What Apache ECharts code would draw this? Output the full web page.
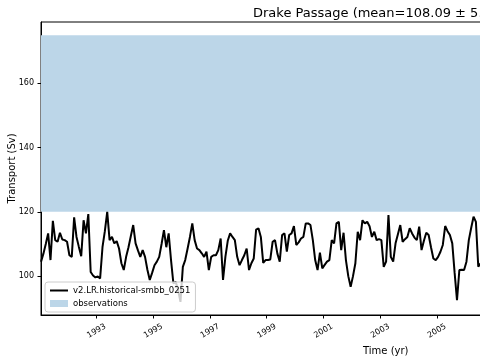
<!DOCTYPE html>
<html>
<head>
<meta charset="utf-8">
<script src="https://cdn.jsdelivr.net/npm/echarts@6/dist/echarts.min.js"></script>
<style>html,body{margin:0;padding:0;background:#fff}#c{width:480px;height:360px}</style>
</head>
<body>
<div id="c"></div>
<script>
// Monthly transport values (Sv), starting January 1991
const transport = [
  104.5,107.0,110.0,113.3,105.0,117.2,111.2,110.7,113.5,111.4,111.2,110.7,
  106.5,106.0,118.3,112.2,109.1,106.2,117.4,113.3,119.3,101.3,100.2,99.6,
  99.9,99.3,109.0,114.0,120.0,111.2,112.2,110.2,110.9,108.6,104.0,101.9,
  106.0,109.0,112.5,115.9,110.2,108.0,106.0,108.1,106.0,102.0,98.8,101.0,
  103.4,104.5,106.0,110.0,114.3,109.0,113.3,105.0,97.7,98.2,95.6,92.0,
  102.9,105.0,108.5,112.2,116.4,111.2,108.6,108.1,107.1,106.0,107.6,101.9,
  106.0,106.5,106.5,108.1,111.7,98.8,106.0,111.0,113.3,112.2,111.2,106.0,
  103.4,105.0,106.5,108.6,101.9,104.0,105.5,114.5,114.9,112.2,104.1,105.0,
  105.0,105.2,110.7,111.2,107.0,104.5,112.8,113.3,107.6,112.8,113.3,115.6,
  109.7,110.5,111.7,112.2,116.4,116.4,115.9,111.2,105.0,101.9,107.3,102.4,
  103.5,104.5,105.0,111.2,110.2,116.4,116.9,108.1,113.5,105.0,100.0,96.7,
  100.0,104.0,113.8,111.2,117.4,116.4,116.9,115.5,112.2,113.8,111.2,111.5,
  111.2,102.9,104.5,119.0,106.0,104.5,110.2,113.0,115.9,110.7,111.5,112.2,
  114.9,113.3,112.0,111.2,115.4,108.1,111.0,113.5,112.8,109.0,105.5,105.0,
  106.0,107.6,109.7,115.6,114.0,112.8,110.2,101.0,92.5,101.9,102.0,101.9,
  104.5,111.2,115.0,118.5,116.9,102.9,104.0
];
const startYear = 1991;
const obsLow = 120;
const obsHigh = 175;
const xTickYears = [1993, 1995, 1997, 1999, 2001, 2003, 2005];
const yTicks = [100, 120, 140, 160];
const seriesName = 'v2.LR.historical-smbb_0251';
const obsName = 'observations';
const titleText = 'Drake Passage (mean=108.09 \u00b1 5.52)';

const timeYears = transport.map((v, i) => startYear + (i + 0.5) / 12);
const lineData = transport.map((v, i) => [timeYears[i], v]);

const FONT = 'DejaVu Sans';
const chart = echarts.init(document.getElementById('c'), null, {renderer: 'canvas'});
chart.setOption({
  animation: false,
  backgroundColor: '#fff',
  title: [
    {text: titleText, left: 248, top: 2,
     textStyle: {fontFamily: FONT, fontSize: 13, fontWeight: 'normal', color: '#000'}},
    {text: 'Time (yr)', left: 358, top: 341,
     textStyle: {fontFamily: FONT, fontSize: 10, fontWeight: 'normal', color: '#000'}}
  ],
  grid: {left: 41, top: 22, right: -2, bottom: 45, containLabel: false, outerBoundsMode: 'none',
    show: true, borderColor: '#000', borderWidth: 1, backgroundColor: 'transparent'},
  xAxis: {
    type: 'value', min: 1991.04, max: 2006.59,
    axisLine: {show: true, lineStyle: {color: '#000', width: 1}},
    axisTick: {show: true, length: 3.5, lineStyle: {color: '#000'}, customValues: xTickYears},
    axisLabel: {customValues: xTickYears, rotate: 30, align: 'center', verticalAlign: 'middle', margin: 16,
      fontFamily: FONT, fontSize: 8, color: '#000', formatter: v => String(Math.round(v))},
    splitLine: {show: false}
  },
  yAxis: {
    type: 'value', min: 87.9, max: 179.1,
    name: 'Transport (Sv)', nameLocation: 'middle', nameGap: 24, nameMoveOverlap: false,
    nameTextStyle: {fontFamily: FONT, fontSize: 10, color: '#000'},
    axisLine: {show: true, lineStyle: {color: '#000', width: 1}},
    axisTick: {show: true, length: 3.5, lineStyle: {color: '#000'}, customValues: yTicks},
    axisLabel: {customValues: yTicks, margin: 7, fontFamily: FONT, fontSize: 8, color: '#000'},
    splitLine: {show: false}
  },
  legend: {
    orient: 'vertical', left: 45, top: 282,
    padding: [4, 5, 4, 4], itemGap: 4, itemWidth: 18, itemHeight: 7,
    backgroundColor: 'rgba(255,255,255,0.8)', borderColor: '#ccc', borderWidth: 1, borderRadius: 3,
    textStyle: {fontFamily: FONT, fontSize: 8.5, color: '#000'},
    data: [
      {name: seriesName, itemStyle: {color: 'rgba(0,0,0,0)', opacity: 0, borderWidth: 0}, lineStyle: {color: '#000', width: 2}},
      {name: obsName, icon: 'rect'}
    ]
  },
  series: [
    {
      name: obsName, type: 'bar', data: [], z: 1,
      itemStyle: {color: '#bcd6e8'},
      markArea: {silent: true, itemStyle: {color: '#bcd6e8', opacity: 1},
        data: [[{yAxis: obsLow}, {yAxis: obsHigh}]]}
    },
    {
      name: seriesName, type: 'line', data: lineData, z: 3,
      symbol: 'none', showSymbol: false,
      lineStyle: {color: '#000', width: 2}, itemStyle: {color: '#000'}
    }
  ]
});
</script>
</body>
</html>
